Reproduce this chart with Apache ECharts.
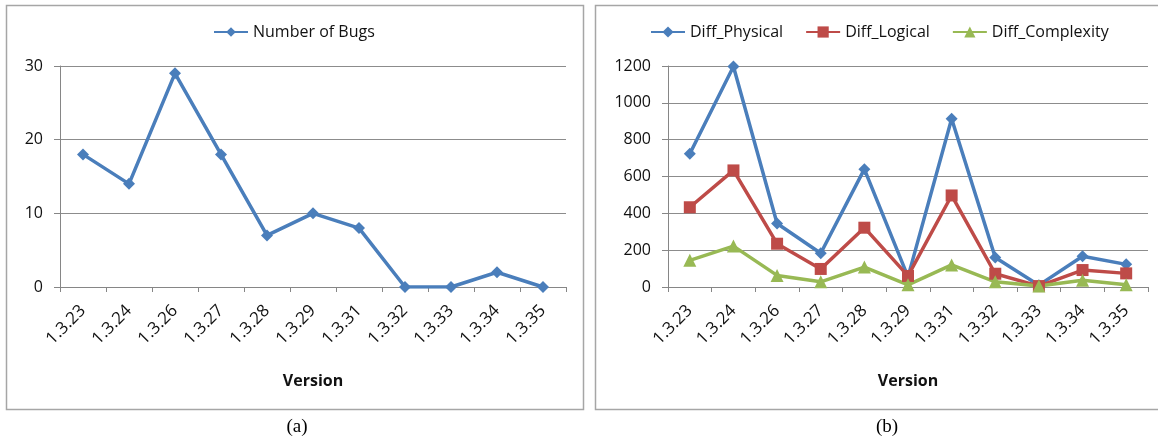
<!DOCTYPE html>
<html>
<head>
<meta charset="utf-8">
<script src="https://cdn.jsdelivr.net/npm/echarts@6/dist/echarts.min.js"></script>
<style>
html,body{margin:0;padding:0;background:#fff;}
#c{width:1158px;height:442px;}
</style>
</head>
<body>
<div id="c"></div>
<script>
var versions = ['1.3.23','1.3.24','1.3.26','1.3.27','1.3.28','1.3.29','1.3.31','1.3.32','1.3.33','1.3.34','1.3.35'];
var bugs = [18, 14, 29, 18, 7, 10, 8, 0, 0, 2, 0];
var diffPhysical = [724, 1197, 345, 183, 640, 55, 914, 160, 10, 167, 123];
var diffLogical = [433, 633, 235, 98, 322, 60, 497, 72, 5, 92, 74];
var diffComplexity = [145, 222, 63, 28, 108, 12, 120, 28, 5, 37, 12];
var bugTicks = {min: 0, max: 30, interval: 10};
var diffTicks = {min: 0, max: 1200, interval: 200};

var BLUE = '#4A7EBB', RED = '#BE4B48', GREEN = '#98B954';
var FONT = 'Open Sans';
var chart = echarts.init(document.getElementById('c'));

function xAxis(idx) {
  return {
    type: 'category', gridIndex: idx, data: versions, boundaryGap: true,
    axisLine: {lineStyle: {color: '#868686', width: 1}},
    axisTick: {show: true, length: 5, lineStyle: {color: '#868686'}},
    axisLabel: {rotate: 45, margin: 21, fontFamily: FONT, fontSize: 17, color: '#111', interval: 0},
    name: 'Version', nameLocation: 'middle', nameGap: 86,
    nameTextStyle: {fontFamily: FONT, fontSize: 16, fontWeight: 'bold', color: '#111'}
  };
}
function yAxis(idx, t) {
  return {
    type: 'value', gridIndex: idx, min: t.min, max: t.max, interval: t.interval,
    axisLine: {show: true, lineStyle: {color: '#868686', width: 1}},
    axisTick: {show: true, length: 6, lineStyle: {color: '#868686'}},
    splitLine: {show: true, lineStyle: {color: '#8c8c8c', width: 1}},
    axisLabel: {margin: 17, fontFamily: FONT, fontSize: 16, color: '#111',
                formatter: function (v) { return String(v); }}
  };
}
function lineSeries(name, data, color, symbol, size, xi) {
  return {
    type: 'line', name: name, data: data, xAxisIndex: xi, yAxisIndex: xi,
    symbol: symbol, symbolSize: size, showSymbol: true,
    lineStyle: {color: color, width: 3.5}, itemStyle: {color: color},
    emphasis: {disabled: true}, animation: false
  };
}

chart.setOption({
  animation: false,
  grid: [
    {left: 60, right: 592, top: 66, bottom: 155},
    {left: 668, right: 10, top: 66, bottom: 155}
  ],
  legend: [
    {data: ['Number of Bugs'], left: 208, top: 19, itemWidth: 34, itemHeight: 12, itemGap: 24,
     selectedMode: false, textStyle: {fontFamily: FONT, fontSize: 16, color: '#111'}},
    {data: ['Diff_Physical', 'Diff_Logical', 'Diff_Complexity'], left: 645, top: 19, itemWidth: 34, itemHeight: 14, itemGap: 22,
     selectedMode: false, textStyle: {fontFamily: FONT, fontSize: 16, color: '#111'}}
  ],
  xAxis: [xAxis(0), xAxis(1)],
  yAxis: [yAxis(0, bugTicks), yAxis(1, diffTicks)],
  series: [
    lineSeries('Number of Bugs', bugs, BLUE, 'diamond', 12, 0),
    lineSeries('Diff_Physical', diffPhysical, BLUE, 'diamond', 12, 1),
    lineSeries('Diff_Logical', diffLogical, RED, 'rect', 12, 1),
    lineSeries('Diff_Complexity', diffComplexity, GREEN, 'triangle', 13, 1)
  ],
  graphic: [
    {type: 'rect', shape: {x: 6.5, y: 5.5, width: 577, height: 404}, style: {fill: 'none', stroke: '#a6a6a6', lineWidth: 1.5}, silent: true},
    {type: 'rect', shape: {x: 595.5, y: 5.5, width: 620, height: 404}, style: {fill: 'none', stroke: '#a6a6a6', lineWidth: 1.5}, silent: true},
    {type: 'text', x: 297, y: 427, style: {text: '(a)', font: '19px "Liberation Serif"', fill: '#000', textAlign: 'center', textVerticalAlign: 'middle'}, silent: true},
    {type: 'text', x: 887, y: 427, style: {text: '(b)', font: '19px "Liberation Serif"', fill: '#000', textAlign: 'center', textVerticalAlign: 'middle'}, silent: true}
  ]
});
</script>
</body>
</html>
